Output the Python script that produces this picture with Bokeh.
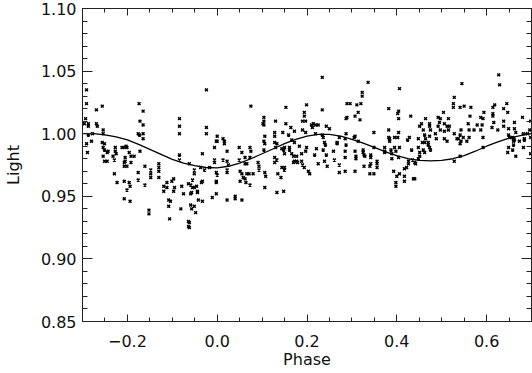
from bokeh.plotting import figure
from bokeh.models import (Range1d, LinearAxis, SingleIntervalTicker,
                          PrintfTickFormatter, CustomJSTickFormatter)
from bokeh.embed import file_html
from bokeh.resources import INLINE

# ---- data: observations (phase, light) ----
obs_phase = [
    -0.291, -0.291, -0.269, -0.256, -0.293, -0.296, -0.287, -0.287, -0.269, -0.267,
    -0.254, -0.254, -0.278, -0.287, -0.174, -0.165, -0.172, -0.165, -0.176, -0.173,
    -0.165, -0.165, -0.084, -0.084, -0.084, -0.024, -0.024, -0.024, 0.000, 0.013,
    -0.002,
    -0.291, -0.289, -0.280, -0.256, -0.251, -0.254, -0.251, -0.243, -0.245, -0.227,
    -0.227, -0.225, -0.254, -0.251, -0.245, -0.232, -0.229, -0.212, -0.207, -0.203,
    -0.201, -0.196, -0.192, -0.185, -0.205, -0.205, -0.207, -0.192, -0.207, -0.201,
    -0.172, -0.229, -0.223, -0.207, -0.196, -0.194, -0.201, -0.207, -0.194, -0.176,
    -0.176, -0.161, -0.161, -0.148, -0.148, -0.148, -0.130, -0.130, -0.130, -0.130,
    -0.152, -0.152, -0.119, -0.119, -0.112, -0.112, -0.101, -0.097, -0.095, -0.108,
    -0.104, -0.108, -0.097, -0.106, -0.081, -0.079, -0.075, -0.064, -0.059, -0.055,
    -0.055, -0.059, -0.057, -0.051, -0.046, -0.044, -0.059, -0.057, -0.051, -0.048,
    -0.042, -0.044, -0.035, -0.033, -0.033, -0.064, -0.062, -0.064, -0.062, -0.033,
    -0.062, -0.051, -0.051, -0.037, -0.028, -0.017, -0.011, -0.006, -0.006, -0.006,
    -0.002, 0.000, -0.002, -0.002, -0.002, 0.000, 0.016, 0.016, 0.013, 0.022,
    0.022, 0.022, 0.022, 0.022, 0.025, -0.084, -0.084,
    0.075, 0.153, 0.199, 0.234, 0.234, 0.336, 0.323, 0.323, 0.289, 0.296,
    0.311, 0.320, 0.314, 0.289, 0.287, 0.307, 0.318, 0.104, 0.104, 0.102,
    0.104, 0.130, 0.153, 0.194, 0.194, 0.190, 0.197, 0.210, 0.214, 0.219,
    0.225, 0.243, 0.250, 0.212, 0.190, 0.164, 0.172, 0.146, 0.128, 0.128,
    0.106, 0.219, 0.234, 0.236, 0.197, 0.287, 0.307, 0.349, 0.159,
    0.049, 0.055, 0.073, 0.075, 0.049, 0.062, 0.073, 0.062, 0.066, 0.091,
    0.093, 0.093, 0.051, 0.055, 0.066, 0.071, 0.080, 0.058, 0.062, 0.064,
    0.051, 0.073, 0.040, 0.040, 0.055, 0.104, 0.106, 0.104, 0.106, 0.108,
    0.106, 0.128, 0.133, 0.128, 0.128, 0.133, 0.130, 0.144, 0.148, 0.150,
    0.150, 0.144, 0.150, 0.150, 0.135, 0.142, 0.133, 0.148, 0.161, 0.161,
    0.166, 0.170, 0.172, 0.170, 0.177, 0.177, 0.179, 0.166, 0.172, 0.183,
    0.188, 0.188, 0.190, 0.194, 0.199, 0.197, 0.203, 0.206, 0.217, 0.221,
    0.225, 0.239, 0.241, 0.236, 0.239, 0.243, 0.245, 0.259, 0.261, 0.267,
    0.267, 0.272, 0.272, 0.285, 0.287, 0.285, 0.285, 0.285, 0.307, 0.309,
    0.309, 0.307, 0.325, 0.327, 0.329, 0.327, 0.342, 0.342, 0.342, 0.340,
    0.340, 0.349, 0.356, 0.356, 0.356, 0.349, 0.272, 0.305, 0.314, 0.325,
    0.406, 0.382, 0.404, 0.402, 0.404, 0.431, 0.382, 0.382, 0.384, 0.395,
    0.402, 0.404, 0.428, 0.545, 0.528, 0.526, 0.526, 0.541, 0.550, 0.565,
    0.627, 0.629, 0.618, 0.614, 0.645, 0.638, 0.647, 0.614, 0.614, 0.594,
    0.587, 0.592, 0.563, 0.616, 0.638, 0.662, 0.680, 0.698, 0.504, 0.492,
    0.497, 0.515, 0.464, 0.455, 0.451, 0.473, 0.473, 0.495, 0.492, 0.506,
    0.512, 0.559, 0.579, 0.590, 0.572, 0.587, 0.561, 0.543, 0.612, 0.625,
    0.638, 0.649, 0.662, 0.665, 0.459, 0.475, 0.497, 0.506, 0.517, 0.515,
    0.486, 0.462, 0.473, 0.448, 0.464, 0.488, 0.506, 0.528, 0.537, 0.541,
    0.548, 0.561, 0.592, 0.649, 0.658, 0.660, 0.682, 0.691, 0.696, 0.684,
    0.373, 0.373, 0.373, 0.387, 0.389, 0.395, 0.398, 0.406, 0.389, 0.404,
    0.393, 0.400, 0.406, 0.398, 0.398, 0.417, 0.422, 0.417, 0.417, 0.426,
    0.426, 0.435, 0.440, 0.442, 0.437, 0.440, 0.433, 0.424, 0.451, 0.451,
    0.448, 0.459, 0.462, 0.448, 0.473, 0.475, 0.470, 0.462, 0.384, 0.457,
    0.470, 0.512, 0.534, 0.543, 0.541, 0.556, 0.528, 0.541, 0.592, 0.649,
    0.658, 0.660, 0.662, 0.647, 0.665, 0.651, 0.660, 0.673, 0.684, 0.682,
    0.698, 0.698,
]
obs_light = [
    1.035, 1.024, 1.019, 1.022, 1.012, 1.008, 1.008, 1.006, 1.008, 1.006,
    1.003, 1.000, 1.000, 0.999, 1.024, 1.018, 1.010, 1.007, 1.000, 0.999,
    1.000, 0.996, 1.012, 1.006, 1.000, 1.035, 1.005, 1.000, 0.998, 0.996,
    0.994,
    0.992, 0.985, 0.994, 0.993, 0.992, 0.989, 0.987, 0.986, 0.985, 0.989,
    0.986, 0.984, 0.982, 0.978, 0.978, 0.982, 0.979, 0.989, 0.989, 0.990,
    0.989, 0.985, 0.982, 0.982, 0.981, 0.978, 0.977, 0.977, 0.974, 0.974,
    0.986, 0.968, 0.961, 0.962, 0.961, 0.958, 0.955, 0.948, 0.946, 0.969,
    0.963, 0.974, 0.959, 0.971, 0.968, 0.965, 0.976, 0.973, 0.970, 0.965,
    0.939, 0.936, 0.958, 0.954, 0.961, 0.957, 0.962, 0.964, 0.957, 0.947,
    0.946, 0.942, 0.954, 0.932, 0.940, 0.958, 0.952, 0.960, 0.959, 0.963,
    0.957, 0.952, 0.953, 0.957, 0.958, 0.954, 0.943, 0.940, 0.942, 0.937,
    0.947, 0.953, 0.961, 0.962, 0.946, 0.930, 0.929, 0.926, 0.925, 0.984,
    0.976, 0.971, 0.968, 0.973, 0.971, 0.973, 0.949, 0.979, 0.977, 0.989,
    0.969, 0.967, 0.962, 0.961, 0.952, 0.994, 0.994, 0.992, 0.979, 0.978,
    0.986, 0.971, 0.969, 0.947, 0.975, 0.983, 0.979,
    1.022, 1.021, 1.023, 1.045, 1.019, 1.041, 1.033, 1.030, 1.024, 1.024,
    1.023, 1.024, 1.017, 1.013, 1.012, 1.014, 1.011, 1.013, 1.010, 1.008,
    1.007, 1.010, 1.008, 1.017, 1.014, 1.010, 1.010, 1.007, 1.008, 1.007,
    1.007, 1.006, 1.004, 1.005, 1.003, 1.005, 1.002, 1.001, 1.001, 0.998,
    0.998, 1.000, 0.999, 0.997, 1.001, 1.000, 0.998, 1.001, 0.999,
    0.989, 0.985, 0.989, 0.986, 0.979, 0.981, 0.981, 0.976, 0.976, 0.977,
    0.974, 0.971, 0.970, 0.968, 0.968, 0.968, 0.968, 0.965, 0.964, 0.961,
    0.962, 0.959, 0.950, 0.948, 0.947, 0.994, 0.992, 0.987, 0.969, 0.966,
    0.957, 0.993, 0.992, 0.981, 0.977, 0.979, 0.989, 0.988, 0.987, 0.989,
    0.984, 0.973, 0.973, 0.971, 0.968, 0.965, 0.953, 0.954, 0.989, 0.987,
    0.984, 0.982, 0.978, 0.977, 0.982, 0.978, 0.977, 0.995, 0.993, 0.990,
    0.984, 0.978, 0.975, 0.973, 0.989, 0.986, 0.970, 0.968, 0.983, 0.988,
    0.976, 0.993, 0.991, 0.987, 0.978, 0.983, 0.974, 0.986, 0.979, 0.993,
    0.992, 0.975, 0.969, 0.996, 0.991, 0.986, 0.981, 0.970, 0.986, 0.982,
    0.980, 0.970, 0.985, 0.983, 0.982, 0.974, 0.983, 0.981, 0.976, 0.974,
    0.968, 0.968, 0.978, 0.976, 0.973, 0.989, 0.997, 0.997, 0.994, 0.987,
    1.036, 1.020, 1.018, 1.016, 1.012, 1.014, 1.003, 0.997, 0.996, 0.997,
    0.997, 1.001, 0.997, 1.040, 1.029, 1.024, 1.021, 1.021, 1.022, 1.021,
    1.047, 1.039, 1.023, 1.021, 1.024, 1.020, 1.017, 1.016, 1.014, 1.017,
    1.013, 1.012, 1.014, 1.009, 1.010, 1.009, 1.013, 1.010, 1.017, 1.013,
    1.012, 1.012, 1.012, 1.008, 1.006, 1.008, 1.006, 1.009, 1.006, 1.008,
    1.006, 1.008, 1.007, 1.007, 1.003, 1.003, 1.003, 1.003, 1.005, 1.003,
    1.006, 1.004, 1.004, 1.001, 1.003, 1.003, 1.003, 1.002, 1.006, 1.003,
    1.000, 0.999, 0.998, 0.996, 0.996, 0.996, 0.996, 1.000, 0.996, 0.999,
    0.997, 0.997, 0.997, 0.999, 0.997, 0.996, 1.000, 1.000, 1.003, 0.996,
    0.989, 0.986, 0.985, 0.987, 0.984, 0.989, 0.986, 0.989, 0.980, 0.981,
    0.970, 0.966, 0.968, 0.961, 0.958, 0.972, 0.973, 0.966, 0.962, 0.978,
    0.976, 0.979, 0.977, 0.976, 0.964, 0.964, 0.987, 0.995, 0.985, 0.982,
    0.980, 0.987, 0.985, 0.989, 0.989, 0.987, 0.991, 0.993, 0.994, 0.993,
    0.993, 0.994, 0.996, 0.994, 0.992, 0.994, 0.978, 0.982, 0.989, 0.989,
    0.987, 0.991, 0.995, 0.985, 0.982, 0.997, 0.994, 0.994, 0.995, 0.989,
    0.984, 0.997,
]

# ---- data: model light curve ----
model_phase = [-0.300, -0.275, -0.250, -0.225, -0.200, -0.175, -0.150, -0.125,
               -0.100, -0.075, -0.050, -0.025, 0.000, 0.025, 0.050, 0.075,
               0.100, 0.125, 0.150, 0.175, 0.200, 0.225, 0.250, 0.275,
               0.300, 0.325, 0.350, 0.375, 0.400, 0.425, 0.450, 0.475,
               0.500, 0.525, 0.550, 0.575, 0.600, 0.625, 0.650, 0.675, 0.700]
model_light = [1.0000, 1.0000, 0.9990, 0.9975, 0.9950, 0.9915, 0.9875, 0.9835,
               0.9795, 0.9765, 0.9745, 0.9730, 0.9727, 0.9740, 0.9765, 0.9800,
               0.9840, 0.9880, 0.9920, 0.9955, 0.9980, 0.9995, 0.9995, 0.9980,
               0.9955, 0.9925, 0.9890, 0.9855, 0.9825, 0.9800, 0.9787, 0.9783,
               0.9787, 0.9800, 0.9825, 0.9860, 0.9900, 0.9935, 0.9965, 0.9985,
               1.0000]

x_label = "Phase"
y_label = "Light"

FONT = "DejaVu Sans"

p = figure(width=532, height=373, output_backend="svg", toolbar_location=None,
           x_range=Range1d(-0.3, 0.7), y_range=Range1d(0.85, 1.10),
           min_border_left=78, min_border_right=1, min_border_top=8,
           min_border_bottom=52, x_axis_label=x_label, y_axis_label=y_label)
p.background_fill_color = "white"
p.border_fill_color = "white"
p.outline_line_color = "#222222"
p.outline_line_width = 1
p.xgrid.visible = False
p.ygrid.visible = False

xfmt = CustomJSTickFormatter(code="""
    var s = Math.abs(tick).toFixed(1);
    return (tick < -1e-9 ? '\u2212' : '') + s;
""")

def style(ax, ticker, major_len, minor_len):
    ax.ticker = ticker
    ax.axis_line_color = "#222222"
    ax.major_tick_line_color = "#222222"
    ax.minor_tick_line_color = "#222222"
    ax.major_tick_in = major_len
    ax.major_tick_out = 0
    ax.minor_tick_in = minor_len
    ax.minor_tick_out = 0
    ax.major_label_text_font = FONT
    ax.major_label_text_font_size = "16px"
    ax.major_label_text_color = "#111111"
    ax.axis_label_text_font = FONT
    ax.axis_label_text_font_size = "16px"
    ax.axis_label_text_font_style = "normal"
    ax.axis_label_text_color = "#111111"

xa = p.xaxis[0]
style(xa, SingleIntervalTicker(interval=0.2, num_minor_ticks=4), 7, 4)
xa.formatter = xfmt
xa.major_label_standoff = 13
xa.axis_label_standoff = 0

ya = p.yaxis[0]
style(ya, SingleIntervalTicker(interval=0.05, num_minor_ticks=5), 10, 5)
ya.formatter = PrintfTickFormatter(format="%.2f")
ya.major_label_standoff = 6
ya.axis_label_standoff = 15

# mirrored tick marks on the top and right edges (blank labels)
blank_top = CustomJSTickFormatter(code="return '';")
blank_right = CustomJSTickFormatter(code="return '';")
top = LinearAxis(formatter=blank_top, major_label_standoff=0)
style(top, SingleIntervalTicker(interval=0.2, num_minor_ticks=4), 7, 4)
p.add_layout(top, "above")
right = LinearAxis(formatter=blank_right, major_label_standoff=0)
style(right, SingleIntervalTicker(interval=0.05, num_minor_ticks=5), 10, 5)
p.add_layout(right, "right")

p.scatter(obs_phase, obs_light, marker="x", size=4, line_width=1.5,
          line_color="black")
p.line(model_phase, model_light, line_color="black", line_width=1.3)

open("out.html", "w").write(file_html(p, INLINE))
